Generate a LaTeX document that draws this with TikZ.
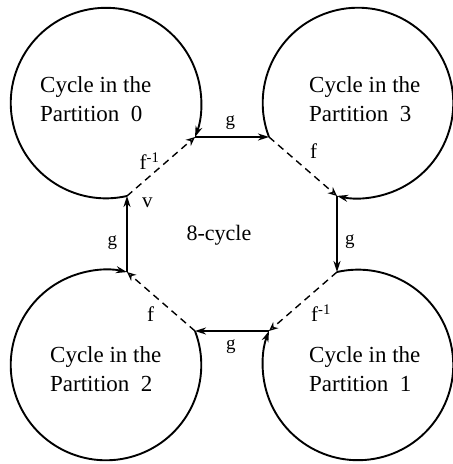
\documentclass[tikz,border=0pt]{standalone}
\usepackage{fontspec}
\setmainfont{Liberation Serif}
\usetikzlibrary{arrows.meta}
\begin{document}
\begin{tikzpicture}[x=1pt,y=1pt,
  cycarrow/.style={line width=1.9pt,-{Stealth[length=11pt,width=7pt]}},
  solidedge/.style={line width=1.9pt,-{Stealth[length=11pt,width=7pt]}},
  dashedge/.style={line width=1.4pt,dash pattern=on 7pt off 5pt,-{Stealth[open,length=9pt,width=8pt,line width=1.3pt]}},
  glab/.style={font=\fontsize{19}{22}\selectfont,inner sep=0pt},
  flab/.style={font=\fontsize{21}{24}\selectfont,inner sep=0pt},
  big/.style={font=\fontsize{23}{28.5}\selectfont,align=left,inner sep=0pt,anchor=west}]
\useasboundingbox (-232,-230) rectangle (221,234);
% octagon vertices
\coordinate (A) at (-37,97);
\coordinate (B) at (37,97);
\coordinate (C) at (105,38);
\coordinate (D) at (105,-38);
\coordinate (E) at (37,-97);
\coordinate (F) at (-37,-97);
\coordinate (G) at (-105,-38);
\coordinate (H) at (-105,38);
% cycles in the partitions
\draw[cycarrow] (H) arc[start angle=-77.28, end angle=-380.91, radius=95.27];
\draw[cycarrow] (B) arc[start angle=200.91, end angle=-102.72, radius=95.27];
\draw[cycarrow] (D) arc[start angle=102.72, end angle=-200.91, radius=95.27];
\draw[cycarrow] (F) arc[start angle=20.91, end angle=-282.72, radius=95.27];
% 8-cycle edges
\draw[solidedge] (A) -- (B);
\draw[dashedge] (B) -- (C);
\draw[solidedge] (C) -- (D);
\draw[dashedge] (D) -- (E);
\draw[solidedge] (E) -- (F);
\draw[dashedge] (F) -- (G);
\draw[solidedge] (G) -- (H);
\draw[dashedge] (H) -- (A);
% labels
\node[glab] (gAB) at (-1.5,111) {g};
\node[flab] (fBC) at (81.5,82.5) {f};
\node[glab] (gCD) at (118,-7.5) {g};
\node[flab] (fDE) at (89,-79) {f\textsuperscript{-1}};
\node[glab] (gEF) at (-1,-113) {g};
\node[flab] (fFG) at (-81.5,-80.5) {f};
\node[glab] (gGH) at (-119.5,-9) {g};
\node[flab] (fHA) at (-82.5,73) {f\textsuperscript{-1}};
\node[flab] (v) at (-84.5,31.5) {v};
\node[font=\fontsize{22}{26}\selectfont,inner sep=0pt] (eight) at (-13,-1) {8-cycle};
\node[big] (p0) at (-192,135) {Cycle in the\\Partition~~0};
\node[big] (p3) at (77,135) {Cycle in the\\Partition~~3};
\node[big] (p2) at (-182,-135) {Cycle in the\\Partition~~2};
\node[big] (p1) at (77,-135) {Cycle in the\\Partition~~1};
\end{tikzpicture}
\end{document}
